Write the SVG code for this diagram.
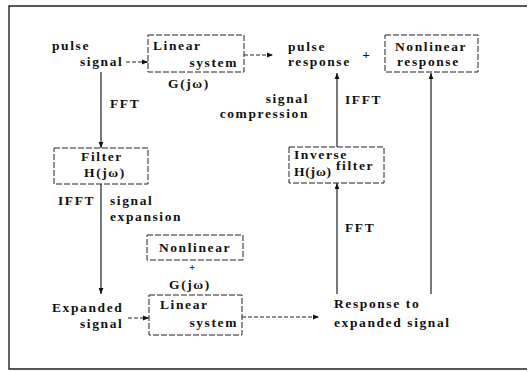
<svg xmlns="http://www.w3.org/2000/svg" width="528" height="372" viewBox="0 0 528 372">
<style>
text{font-family:"Liberation Serif","Times New Roman",serif;font-weight:bold;font-size:13.5px;letter-spacing:1.6px;fill:#111}
.box{fill:none;stroke:#222;stroke-width:1;stroke-dasharray:6 2}
.dash{fill:none;stroke:#222;stroke-width:1;stroke-dasharray:4 2}
.solid{fill:none;stroke:#222;stroke-width:1.2}
.frame{fill:none;stroke:#222;stroke-width:1.4}
</style>
<defs>
<marker id="ah" viewBox="0 0 10 10" refX="10" refY="5" markerWidth="6" markerHeight="6" orient="auto" markerUnits="userSpaceOnUse">
<path d="M0,1 L10,5 L0,9 z" fill="#111"/>
</marker>
</defs>
<rect width="528" height="372" fill="#fff"/>
<path class="frame" d="M527,6 H9 V369 H527"/>

<g id="pulse-signal"><text x="52" y="50">pulse</text><text x="80" y="66">signal</text></g>
<g id="linear-system-1"><rect class="box" x="148" y="35" width="96" height="37"/><text x="153" y="50">Linear</text><text x="238" y="67" text-anchor="end">system</text><text x="189" y="88" text-anchor="middle">G(jω)</text></g>
<g id="pulse-response"><text x="288" y="51">pulse</text><text x="288" y="66">response</text><text x="367" y="59" text-anchor="middle">+</text></g>
<g id="nonlinear-response"><rect class="box" x="385" y="35" width="93" height="37"/><text x="395" y="51">Nonlinear</text><text x="397" y="66">response</text></g>
<g id="filter"><rect class="box" x="54" y="148" width="94" height="36"/><text x="102" y="161" text-anchor="middle">Filter</text><text x="105" y="177" text-anchor="middle">H(jω)</text></g>
<g id="inverse-filter"><rect class="box" x="289" y="147" width="95" height="36"/><text x="294" y="159">Inverse</text><text x="294" y="176" style="letter-spacing:0.8px">H(jω)</text><text x="336" y="170">filter</text></g>
<g id="nonlinear-g"><rect class="box" x="147" y="235" width="96" height="25"/><text x="195" y="252" text-anchor="middle">Nonlinear</text><text x="193" y="271" text-anchor="middle" style="font-size:11px">+</text><text x="190" y="289" text-anchor="middle">G(jω)</text></g>
<g id="expanded-signal"><text x="52" y="312">Expanded</text><text x="80" y="328">signal</text></g>
<g id="linear-system-2"><rect class="box" x="149" y="295" width="93" height="40"/><text x="160" y="309">Linear</text><text x="238" y="327" text-anchor="end">system</text></g>
<g id="response-expanded"><text x="334" y="308">Response to</text><text x="334" y="327">expanded signal</text></g>

<g id="labels">
<text x="110" y="108">FFT</text>
<text x="58" y="205">IFFT</text>
<text x="110" y="205">signal</text>
<text x="110" y="221">expansion</text>
<text x="309" y="103" text-anchor="end">signal</text>
<text x="309" y="118" text-anchor="end">compression</text>
<text x="345" y="104">IFFT</text>
<text x="345" y="232">FFT</text>
</g>

<g id="connectors">
<line class="dash" x1="126" y1="62" x2="148" y2="62" marker-end="url(#ah)"/>
<line class="dash" x1="244" y1="55" x2="273" y2="55" marker-end="url(#ah)"/>
<line class="solid" x1="101" y1="72" x2="101" y2="148" marker-end="url(#ah)"/>
<line class="solid" x1="101" y1="184" x2="101" y2="294" marker-end="url(#ah)"/>
<line class="dash" x1="128" y1="318" x2="149" y2="318" marker-end="url(#ah)"/>
<line class="dash" x1="242" y1="317" x2="319" y2="317" marker-end="url(#ah)"/>
<line class="solid" x1="337" y1="294" x2="337" y2="183" marker-end="url(#ah)"/>
<line class="solid" x1="337" y1="147" x2="337" y2="73" marker-end="url(#ah)"/>
<line class="solid" x1="431" y1="294" x2="431" y2="73" marker-end="url(#ah)"/>
</g>
</svg>
